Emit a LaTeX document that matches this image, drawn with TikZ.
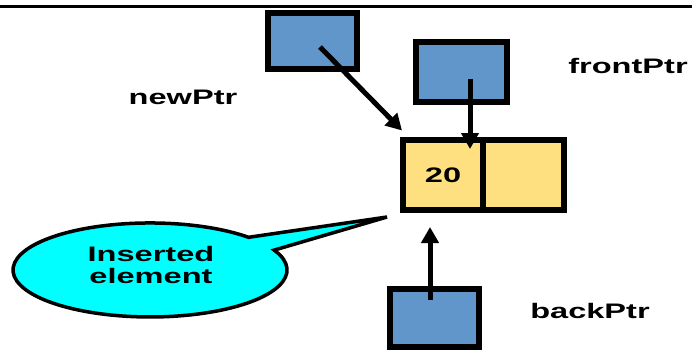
\documentclass[tikz,border=0pt]{standalone}
\usepackage{fontspec}
\setmainfont{Liberation Sans}
\usepackage{graphicx}
\usetikzlibrary{arrows.meta}
\definecolor{ptrblue}{RGB}{96,150,201}
\definecolor{cellyellow}{RGB}{255,224,128}
\definecolor{calloutcyan}{RGB}{0,255,255}
\newcommand\widetext[1]{\scalebox{1.55}[1]{#1}}
\begin{document}
\begin{tikzpicture}[x=1pt,y=1pt,
  ptrbox/.style={draw=black, line width=6pt, fill=ptrblue, minimum width=89pt, minimum height=56pt, inner sep=0pt},
  cellbox/.style={draw=black, line width=6pt, fill=cellyellow, minimum width=80.5pt, minimum height=70pt, inner sep=0pt, font=\fontsize{21}{21}\selectfont\bfseries},
  lbl/.style={inner sep=0pt, font=\fontsize{21}{20.5}\selectfont\bfseries},
  ptrarrow/.style={line width=5pt, -{Triangle[length=16pt,width=17pt]}},
]
\useasboundingbox (0,0) rectangle (692,354);
% top rule
\coordinate (topL) at (0,347);
\coordinate (topR) at (692,347);
\draw[line width=3pt] (topL) -- (topR);

% pointer boxes
\node[ptrbox] (newbox) at (312.5,313) {};
\node[ptrbox, minimum width=91pt, minimum height=60pt] (frontbox) at (461.5,282) {};
\node[ptrbox, minimum height=58pt] (backbox) at (434.5,36) {};

% list node cells
\node[cellbox] (datacell) at (443,179) {\widetext{20}};
\node[cellbox] (nextcell) at (523.5,179) {};

% labels
\node[lbl] (newlbl) at (183,256.5) {\widetext{newPtr}};
\node[lbl] (frontlbl) at (628,288) {\widetext{frontPtr}};
\node[lbl] (backlbl) at (590,43) {\widetext{backPtr}};

% arrows
\coordinate (newstart) at (320,307);
\coordinate (newend) at (402,223.5);
\coordinate (frontstart) at (470,275);
\coordinate (frontend) at (470,205);
\coordinate (backstart) at (430,54);
\coordinate (backend) at (430,127);
\draw[ptrarrow] (newstart) -- (newend);
\draw[ptrarrow] (frontstart) -- (frontend);
\draw[ptrarrow] (backstart) -- (backend);

% callout
\coordinate (calltip) at (387,137);
\coordinate (callupper) at (248.6,116.7);
\coordinate (calllower) at (274.2,103.9);
\draw[line width=3.5pt, fill=calloutcyan, line join=miter] (callupper) -- (calltip) -- (calllower)
  arc[start angle=25, end angle=-316, x radius=137pt, y radius=47pt] -- cycle;
\node[lbl] (calltext) at (151,86) {\widetext{\begin{tabular}{@{}c@{}}Inserted\\element\end{tabular}}};
\end{tikzpicture}
\end{document}
